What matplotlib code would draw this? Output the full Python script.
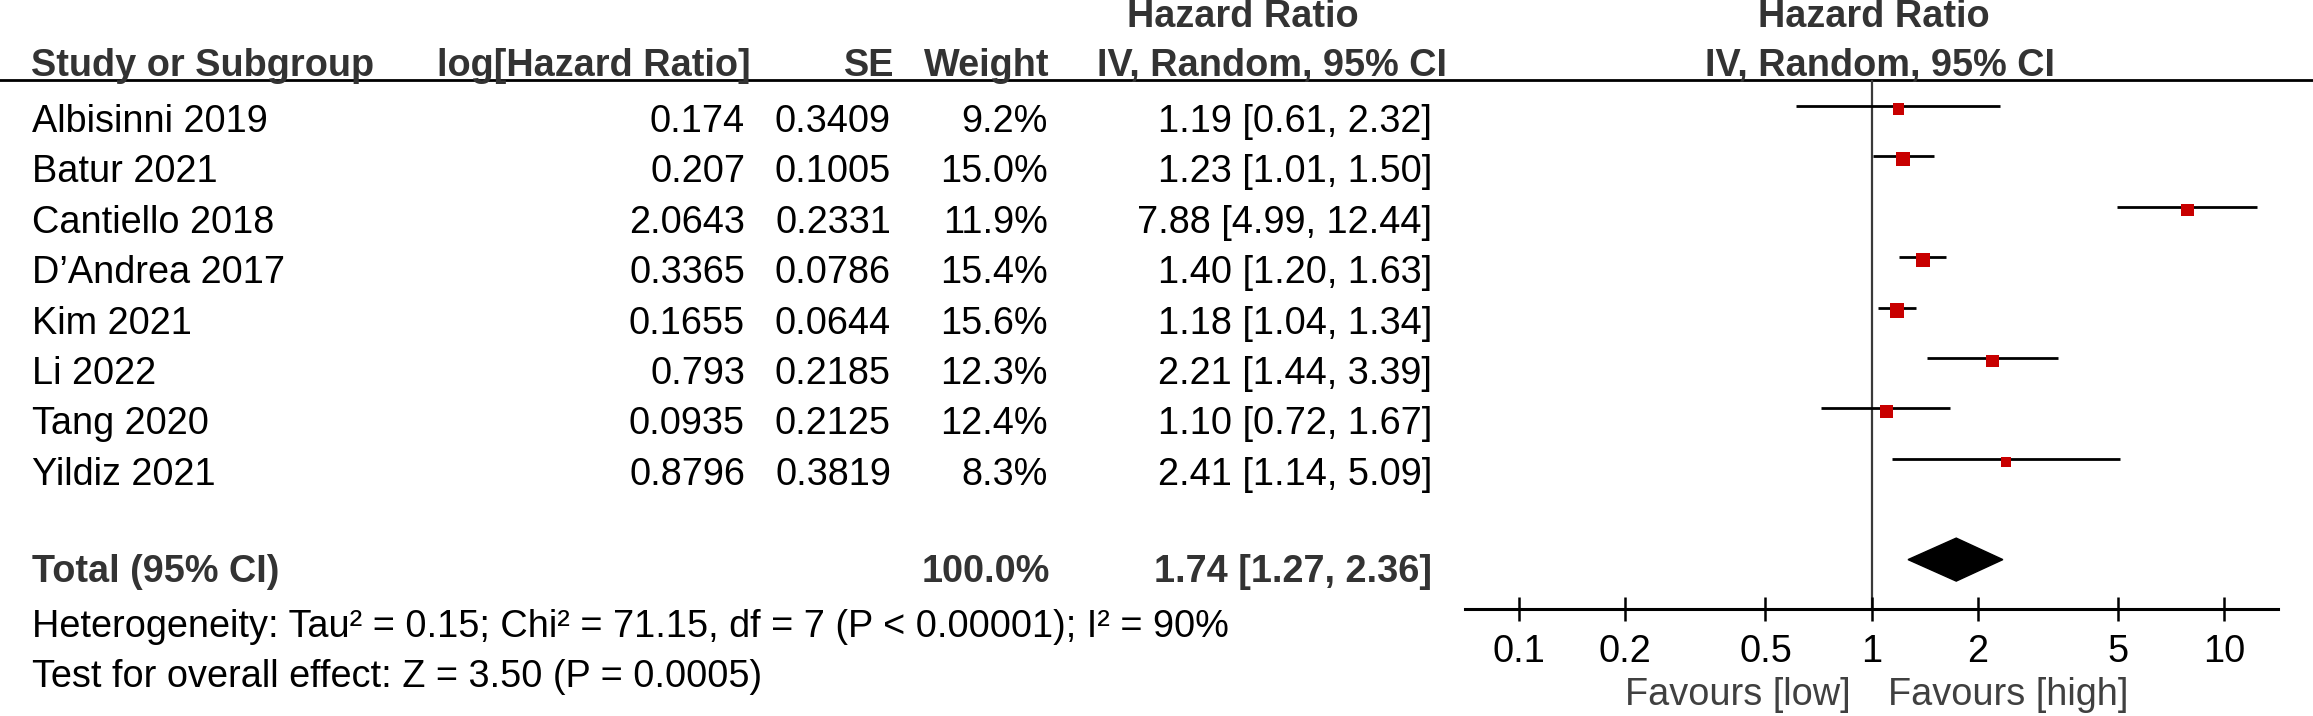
import matplotlib.pyplot as plt
import numpy as np

plt.rcParams['font.family'] = ['Liberation Sans', 'DejaVu Sans']

# data
studies = ['Albisinni 2019', 'Batur 2021', 'Cantiello 2018', 'D\u2019Andrea 2017',
           'Kim 2021', 'Li 2022', 'Tang 2020', 'Yildiz 2021']
log_hr = ['0.174', '0.207', '2.0643', '0.3365', '0.1655', '0.793', '0.0935', '0.8796']
se = ['0.3409', '0.1005', '0.2331', '0.0786', '0.0644', '0.2185', '0.2125', '0.3819']
weight = [9.2, 15.0, 11.9, 15.4, 15.6, 12.3, 12.4, 8.3]
hr = [1.19, 1.23, 7.88, 1.40, 1.18, 2.21, 1.10, 2.41]
ci_low = [0.61, 1.01, 4.99, 1.20, 1.04, 1.44, 0.72, 1.14]
ci_high = [2.32, 1.50, 12.44, 1.63, 1.34, 3.39, 1.67, 5.09]
total_weight = 100.0
total_hr, total_low, total_high = 1.74, 1.27, 2.36
heterogeneity = 'Heterogeneity: Tau\u00b2 = 0.15; Chi\u00b2 = 71.15, df = 7 (P < 0.00001); I\u00b2 = 90%'
overall = 'Test for overall effect: Z = 3.50 (P = 0.0005)'
ticks = [0.1, 0.2, 0.5, 1, 2, 5, 10]
tick_labels = ['0.1', '0.2', '0.5', '1', '2', '5', '10']
favours = ['Favours [low]', 'Favours [high]']

W, H = 2313, 716
FS = 27.3
ROW0, STEP = 106, 50.4   # pixel row of first study line, row spacing
HEAD = '#333333'

fig = plt.figure(figsize=(W / 100, H / 100), dpi=100)

# text table, in pixel coordinates
ax = fig.add_axes([0, 0, 1, 1])
ax.set_xlim(0, W)
ax.set_ylim(H, 0)
ax.axis('off')


def put(x, y, s, ha='left', bold=False, color='black'):
    ax.text(x, y, s, ha=ha, va='baseline', fontsize=FS, color=color,
            fontweight='bold' if bold else 'normal')


put(31, 76, 'Study or Subgroup', bold=True, color=HEAD)
put(751, 76, 'log[Hazard Ratio]', ha='right', bold=True, color=HEAD)
put(894, 76, 'SE', ha='right', bold=True, color=HEAD)
put(1049, 76, 'Weight', ha='right', bold=True, color=HEAD)
put(1243, 27, 'Hazard Ratio', ha='center', bold=True, color=HEAD)
put(1272, 76, 'IV, Random, 95% CI', ha='center', bold=True, color=HEAD)
put(1874, 27, 'Hazard Ratio', ha='center', bold=True, color=HEAD)
put(1880, 76, 'IV, Random, 95% CI', ha='center', bold=True, color=HEAD)
ax.plot([0, W], [80, 80], color='black', lw=2)

for i, name in enumerate(studies):
    y = ROW0 + 26 + STEP * i
    put(32, y, name)
    put(745, y, log_hr[i], ha='right')
    put(891, y, se[i], ha='right')
    put(1048, y, f'{weight[i]:.1f}%', ha='right')
    put(1432, y, f'{hr[i]:.2f} [{ci_low[i]:.2f}, {ci_high[i]:.2f}]', ha='right')

put(32, 582, 'Total (95% CI)', bold=True, color=HEAD)
put(1050, 582, f'{total_weight:.1f}%', ha='right', bold=True, color=HEAD)
put(1432, 582, f'{total_hr:.2f} [{total_low:.2f}, {total_high:.2f}]', ha='right', bold=True, color=HEAD)
put(32, 637, heterogeneity)
put(32, 687, overall)
put(1851, 705, favours[0], ha='right', color='#404040')
put(1888, 705, favours[1], color='#404040')

# forest panel
axis_px, top_px, left_px, right_px = 609.3, 80, 1465, 2278
fx = fig.add_axes([left_px / W, 1 - axis_px / H, (right_px - left_px) / W, (axis_px - top_px) / H])
fx.patch.set_alpha(0)
fx.set_xscale('log')
fx.set_xlim(10 ** -1.154, 10 ** 1.154)
fx.set_ylim((axis_px - ROW0) / STEP, (top_px - ROW0) / STEP)
for s in ['top', 'left', 'right']:
    fx.spines[s].set_visible(False)
fx.spines['bottom'].set_linewidth(2.2)
fx.set_yticks([])
fx.set_xticks(ticks)
fx.set_xticklabels(tick_labels)
fx.minorticks_off()
fx.tick_params(axis='x', direction='inout', length=17, width=1.8, labelsize=FS, pad=9)

rows = np.arange(len(studies))
fx.axvline(1, color='#3a3a3a', lw=1.6, zorder=1)
fx.hlines(rows, ci_low, ci_high, color='black', lw=2.0, zorder=2)
side = 3.65 * np.sqrt(weight) * 0.72
fx.scatter(hr, rows + 0.06, s=side ** 2, marker='s', color='#C80000', linewidths=0, zorder=3)

t_row = len(studies) + 1
h = 21.5 / STEP
fx.fill([total_low, total_hr, total_high, total_hr], [t_row, t_row - h, t_row, t_row + h],
        color='black', zorder=3)

fig.savefig('out.png', dpi=100)
